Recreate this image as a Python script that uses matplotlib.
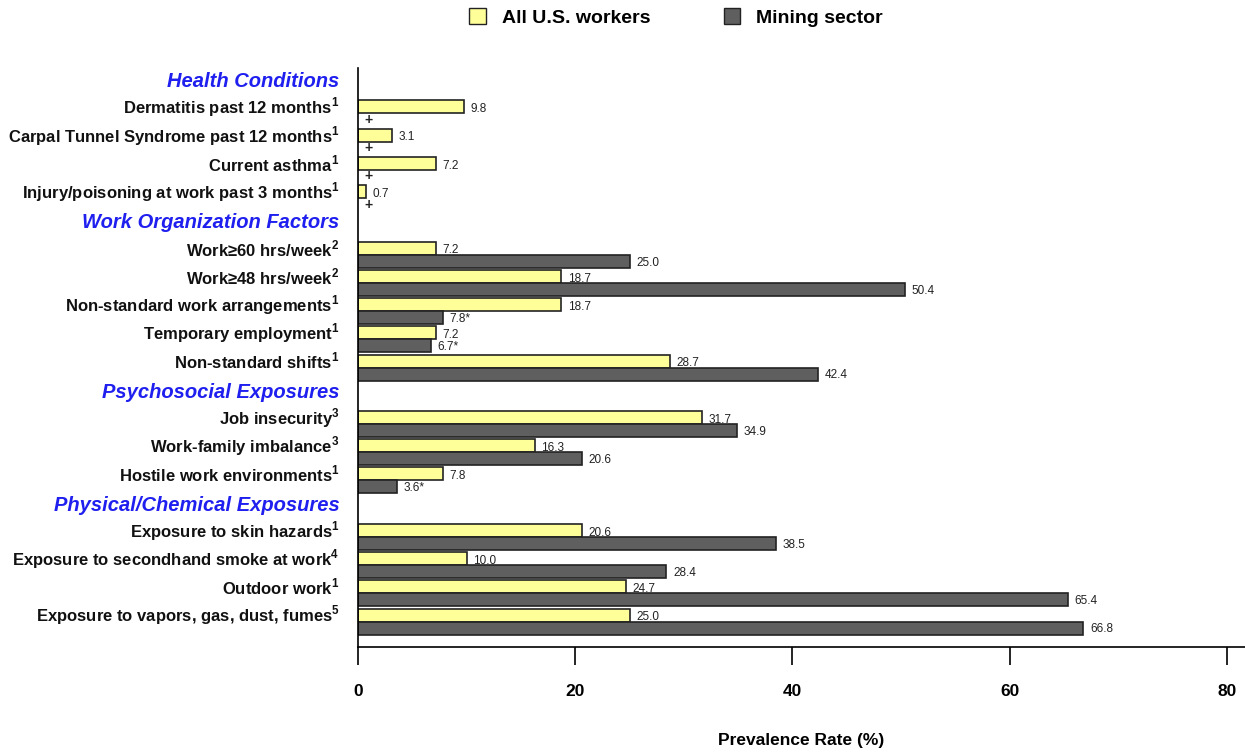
import numpy as np
import matplotlib
matplotlib.use('Agg')
import matplotlib.pyplot as plt
from matplotlib.patches import Patch

plt.rcParams['font.family'] = ['Liberation Sans', 'DejaVu Sans']
plt.rcParams['mathtext.fontset'] = 'custom'
plt.rcParams['mathtext.rm'] = 'Liberation Sans:bold'
plt.rcParams['mathtext.bf'] = 'Liberation Sans:bold'

# datos por grupo
groups = ['Health Conditions', 'Work Organization Factors',
          'Psychosocial Exposures', 'Physical/Chemical Exposures']

health_labels = ['Dermatitis past 12 months', 'Carpal Tunnel Syndrome past 12 months',
                 'Current asthma', 'Injury/poisoning at work past 3 months']
health_notes = [1, 1, 1, 1]
health_all = [9.8, 3.1, 7.2, 0.7]
health_mining = [None, None, None, None]
health_mining_txt = ['+', '+', '+', '+']

work_labels = ['Work\u226560 hrs/week', 'Work\u226548 hrs/week',
               'Non-standard work arrangements', 'Temporary employment',
               'Non-standard shifts']
work_notes = [2, 2, 1, 1, 1]
work_all = [7.2, 18.7, 18.7, 7.2, 28.7]
work_mining = [25.0, 50.4, 7.8, 6.7, 42.4]
work_mining_txt = ['25.0', '50.4', '7.8*', '6.7*', '42.4']

psy_labels = ['Job insecurity', 'Work-family imbalance', 'Hostile work environments']
psy_notes = [3, 3, 1]
psy_all = [31.7, 16.3, 7.8]
psy_mining = [34.9, 20.6, 3.6]
psy_mining_txt = ['34.9', '20.6', '3.6*']

phys_labels = ['Exposure to skin hazards', 'Exposure to secondhand smoke at work',
               'Outdoor work', 'Exposure to vapors, gas, dust, fumes']
phys_notes = [1, 4, 1, 5]
phys_all = [20.6, 10.0, 24.7, 25.0]
phys_mining = [38.5, 28.4, 65.4, 66.8]
phys_mining_txt = ['38.5', '28.4', '65.4', '66.8']

sections = [
    (health_labels, health_notes, health_all, health_mining, health_mining_txt),
    (work_labels, work_notes, work_all, work_mining, work_mining_txt),
    (psy_labels, psy_notes, psy_all, psy_mining, psy_mining_txt),
    (phys_labels, phys_notes, phys_all, phys_mining, phys_mining_txt),
]

yellow = '#FFFF99'
dark = '#5F5F5F'
edge = '#222222'
h = 0.46

fig = plt.figure(figsize=(12.45, 7.52), dpi=100)
ax = fig.add_axes([358 / 1245, 1 - 647 / 752, 887 / 1245, (647 - 68) / 752])

slot = 0
for g, (labs, notes, a_vals, m_vals, m_txt) in zip(groups, sections):
    ax.text(-1.7, slot + 0.1, g, ha='right', va='center', color='#1F1FEF',
            fontsize=14.5, fontweight='bold', fontstyle='italic')
    slot += 1
    for lab, n, a, m, mt in zip(labs, notes, a_vals, m_vals, m_txt):
        ax.text(-1.7, slot + 0.02, lab + r'$^{\mathbf{%d}}$' % n, ha='right', va='center',
                fontsize=12, fontweight='bold', color='#111111')
        ax.barh(slot, a, height=h, color=yellow, edgecolor=edge, linewidth=1.2)
        ax.text(a + 0.6, slot + 0.08, f'{a:.1f}', va='center', ha='left',
                fontsize=8.5, color='#222222')
        if m is None:
            ax.text(1.0, slot + h, mt, va='center', ha='center', fontsize=10,
                    fontweight='bold', color='#222222')
        else:
            ax.barh(slot + h, m, height=h, color=dark, edgecolor=edge, linewidth=1.2)
            ax.text(m + 0.6, slot + h + 0.05, mt, va='center', ha='left',
                    fontsize=8.5, color='#222222')
        slot += 1

ax.set_xlim(0, 887 / 10.86)
ax.set_ylim(20.13, -0.38)
ax.set_yticks([])
ax.set_xticks([0, 20, 40, 60, 80])
ax.tick_params(axis='x', direction='out', length=13, width=1.2, pad=14,
               labelsize=12.5)
for t in ax.get_xticklabels():
    t.set_fontweight('bold')
ax.spines['top'].set_visible(False)
ax.spines['right'].set_visible(False)
ax.spines['left'].set_linewidth(1.2)
ax.spines['bottom'].set_linewidth(1.2)
ax.set_xlabel('Prevalence Rate (%)', fontsize=12.5, fontweight='bold')
ax.xaxis.set_label_coords(0.5, -0.148)

handles = [Patch(facecolor=yellow, edgecolor=edge, label='All U.S. workers'),
           Patch(facecolor=dark, edgecolor=edge, label='Mining sector')]
fig.legend(handles=handles, loc='upper center', bbox_to_anchor=(0.543, 1.012),
           ncol=2, frameon=False, prop={'weight': 'bold', 'size': 14},
           handlelength=0.85, handleheight=0.85, columnspacing=3.8)

fig.savefig('out.png', dpi=100)
